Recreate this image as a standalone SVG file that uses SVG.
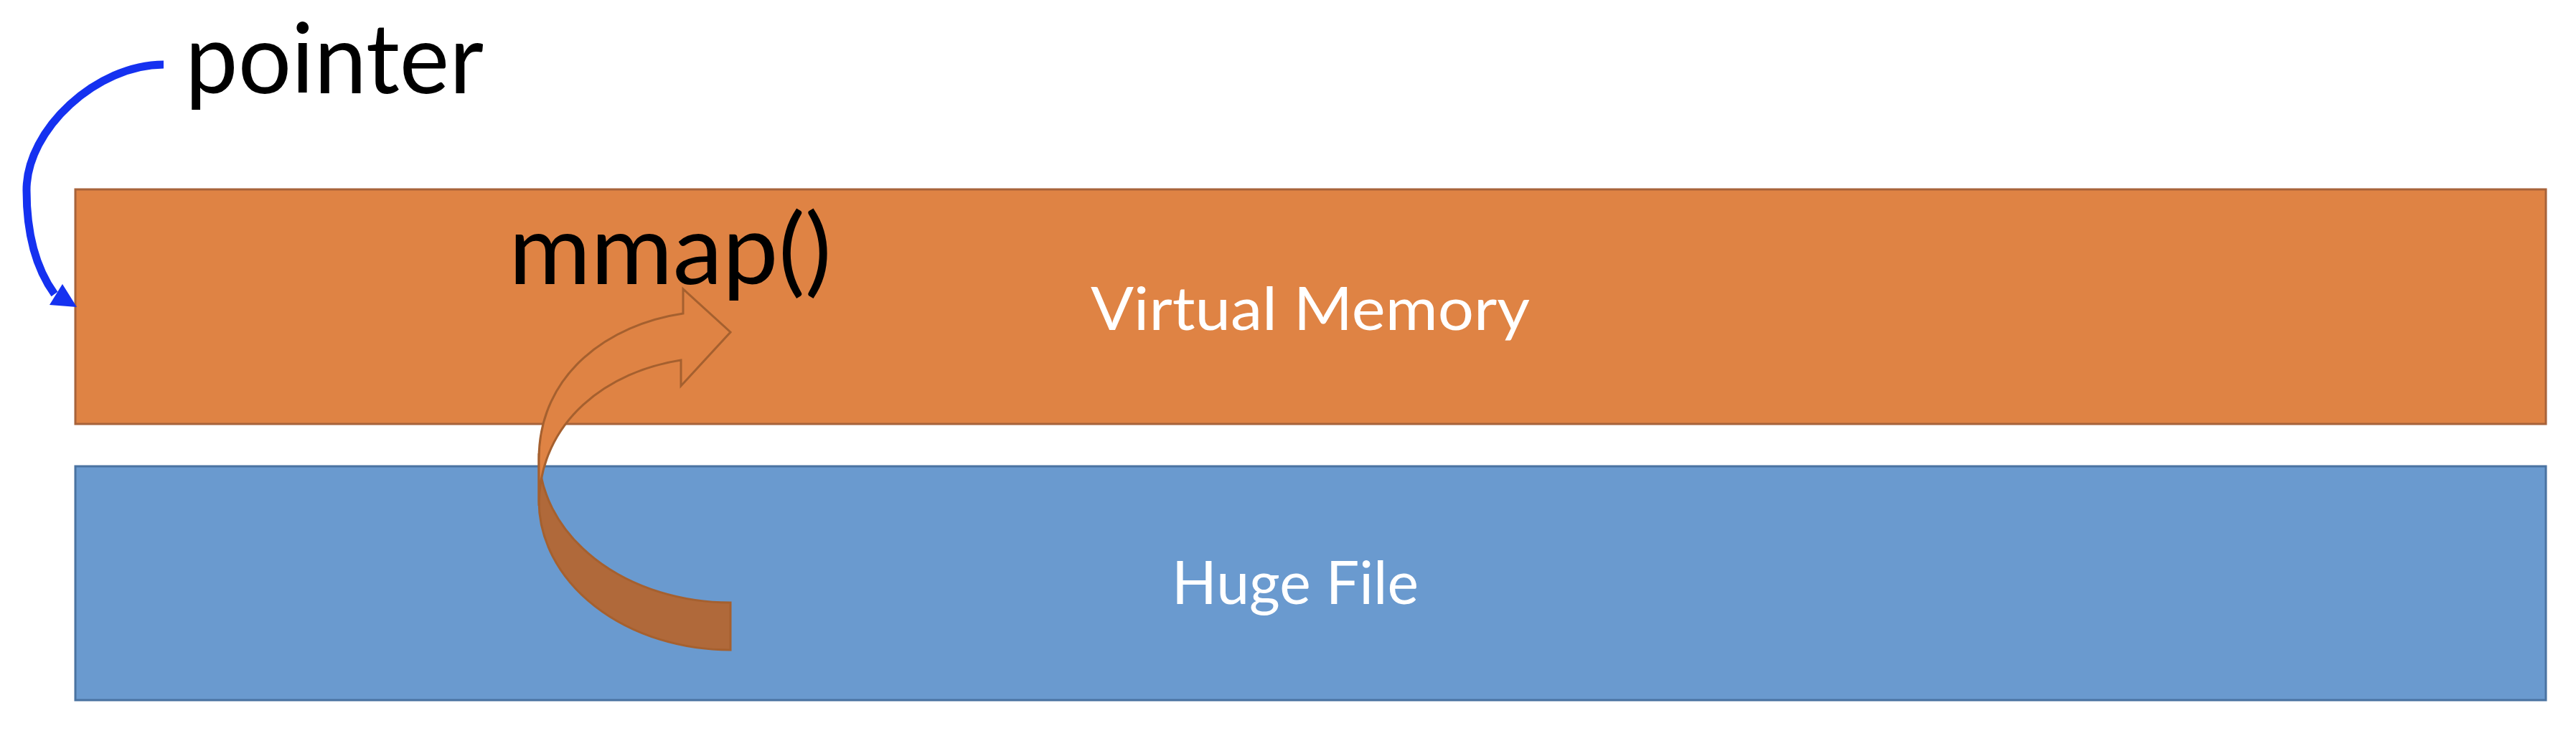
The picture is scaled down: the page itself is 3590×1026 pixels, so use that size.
<svg xmlns="http://www.w3.org/2000/svg" width="3590" height="1026" viewBox="0 0 3590 1026">
<style>
.lbl{font-family:Lato,"Open Sans","Liberation Sans",sans-serif;}
.big{font-size:136px;fill:#000;}
.box{font-size:84px;fill:#fff;}
.vm{fill:#DF8344;stroke:#A7633A;stroke-width:3;}
.hf{fill:#6A9ACF;stroke:#4A73A1;stroke-width:3;}
.arrFront{fill:#DF8344;stroke:#A5602F;stroke-width:3;stroke-linejoin:miter;}
.arrBack{fill:#B0693A;stroke:#A5602F;stroke-width:3;}
</style>
<rect width="3590" height="1026" fill="#fff"/>
<g id="virtual-memory">
<rect class="vm" x="105" y="264" width="3443" height="327"/>
<text class="lbl box" x="1826" y="460" text-anchor="middle" textLength="612" lengthAdjust="spacingAndGlyphs">Virtual Memory</text>
</g>
<g id="huge-file">
<rect class="hf" x="105" y="650" width="3443" height="326"/>
<text class="lbl box" x="1805" y="842" text-anchor="middle" textLength="344" lengthAdjust="spacingAndGlyphs">Huge File</text>
</g>
<g id="pointer-label">
<text class="lbl big" x="258" y="130" textLength="416" lengthAdjust="spacingAndGlyphs">pointer</text>
</g>
<g id="mmap-label">
<text class="lbl big" x="709" y="396" textLength="450" lengthAdjust="spacingAndGlyphs">mmap()</text>
</g>
<g id="connectors">
<g id="pointer-arrow">
<path d="M228,90 C135,90 37,180 37,265 C37,320 47,370 76,410" fill="none" stroke="#1531F0" stroke-width="11"/>
<polygon points="69,425 87,396 107,428" fill="#1531F0"/>
</g>
<g id="mmap-arrow">
<path class="arrBack" d="M751,698 A267,208 0 0 0 1018,906 L1018,840 A267,208 0 0 1 751,632 Z"/>
<path class="arrFront" d="M952,437 C850,452 751,520 751,640 L751,705 C751,585 850,517 949,502 L949,538 L1018,463 L952,403 Z"/>
</g>
</g>
</svg>
